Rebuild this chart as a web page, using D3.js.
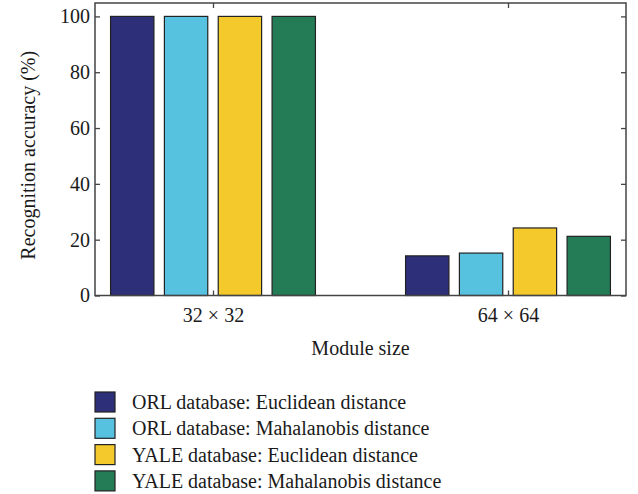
<!DOCTYPE html>
<html>
<head>
<meta charset="utf-8">
<script src="https://cdn.jsdelivr.net/npm/d3@7"></script>
<style>
  html, body { margin: 0; padding: 0; background: #fff; }
  svg { display: block; }
  text { font-family: "Liberation Serif", "DejaVu Serif", serif; fill: #1a1a1a; }
</style>
</head>
<body>
<svg id="chart" width="638" height="494"></svg>
<script>
// Module sizes on the x axis
const categories = ["32 × 32", "64 × 64"];
// Recognition accuracy (%) for each database / distance combination
const seriesNames = [
  "ORL database: Euclidean distance",
  "ORL database: Mahalanobis distance",
  "YALE database: Euclidean distance",
  "YALE database: Mahalanobis distance"
];
const orlEuclidean   = [100, 14.2];
const orlMahalanobis = [100, 15.2];
const yaleEuclidean  = [100, 24.2];
const yaleMahalanobis = [100, 21.2];
const yTicks = [0, 20, 40, 60, 80, 100];

const seriesValues = [orlEuclidean, orlMahalanobis, yaleEuclidean, yaleMahalanobis];
const colors = ["#2d2f78", "#57c2df", "#f3c92c", "#247c56"];

const svg = d3.select("#chart");
const plot = { left: 95, top: 3, right: 626, bottom: 295.5 };
const fontSize = 20;

// Groups sit at x = 1, 2 on a continuous axis
const x = d3.scaleLinear().domain([0.6, 2.4]).range([plot.left, plot.right]);
const y = d3.scaleLinear().domain([0, 104.8]).range([plot.bottom, plot.top]);

const pitch = 0.1825;      // spacing between bars within a group (data units)
const barW = 0.147;        // bar width (data units)
const offsets = seriesNames.map((_, i) => (i - 1.5) * pitch);

// Bars
const bars = svg.append("g");
seriesValues.forEach((vals, s) => {
  bars.selectAll(null)
    .data(vals.map((v, c) => ({ v, c })))
    .enter().append("rect")
    .attr("x", d => x(d.c + 1 + offsets[s] - barW / 2))
    .attr("width", x(barW) - x(0))
    .attr("y", d => y(d.v))
    .attr("height", d => y(0) - y(d.v))
    .attr("fill", colors[s])
    .attr("stroke", "#222")
    .attr("stroke-width", 1.2);
});

// Frame and inward ticks
const axisColor = "#444";
const tickLen = 5;
const axisL = d3.axisLeft(y).tickValues(yTicks).tickSizeInner(-tickLen).tickSizeOuter(0).tickPadding(5);
const axisR = d3.axisRight(y).tickValues(yTicks).tickSizeInner(-tickLen).tickSizeOuter(0).tickFormat("");
const axisB = d3.axisBottom(x).tickValues([1, 2]).tickFormat(d => categories[d - 1])
  .tickSizeInner(-tickLen).tickSizeOuter(0).tickPadding(12);
const axisT = d3.axisTop(x).tickValues([1, 2]).tickSizeInner(-tickLen).tickSizeOuter(0).tickFormat("");

function styleAxis(g) {
  g.select(".domain").remove();
  g.selectAll(".tick line").attr("stroke", axisColor).attr("stroke-width", 1.3);
  g.selectAll(".tick text").attr("font-size", fontSize).attr("fill", "#1a1a1a")
    .style("font-family", '"Liberation Serif", "DejaVu Serif", serif');
}
svg.append("g").attr("transform", `translate(${plot.left},0)`).call(axisL).call(styleAxis);
svg.append("g").attr("transform", `translate(${plot.right},0)`).call(axisR).call(styleAxis);
svg.append("g").attr("transform", `translate(0,${plot.bottom})`).call(axisB).call(styleAxis);
svg.append("g").attr("transform", `translate(0,${plot.top})`).call(axisT).call(styleAxis);

svg.append("rect")
  .attr("x", plot.left).attr("y", plot.top)
  .attr("width", plot.right - plot.left).attr("height", plot.bottom - plot.top)
  .attr("fill", "none").attr("stroke", axisColor).attr("stroke-width", 1.5);

// Axis titles
svg.append("text")
  .attr("transform", `translate(35,${(plot.top + plot.bottom) / 2 + 6}) rotate(-90)`)
  .attr("text-anchor", "middle").attr("font-size", fontSize)
  .text("Recognition accuracy (%)");
svg.append("text")
  .attr("x", (plot.left + plot.right) / 2).attr("y", 355)
  .attr("text-anchor", "middle").attr("font-size", fontSize)
  .text("Module size");

// Legend
const legend = svg.append("g").attr("transform", "translate(95,392)");
const rowH = 26.3;
seriesNames.forEach((name, i) => {
  const g = legend.append("g").attr("transform", `translate(0,${i * rowH})`);
  g.append("rect").attr("width", 20).attr("height", 20)
    .attr("fill", colors[i]).attr("stroke", "#222").attr("stroke-width", 1.2);
  g.append("text").attr("x", 37).attr("y", 17).attr("font-size", fontSize).text(name);
});
</script>
</body>
</html>
